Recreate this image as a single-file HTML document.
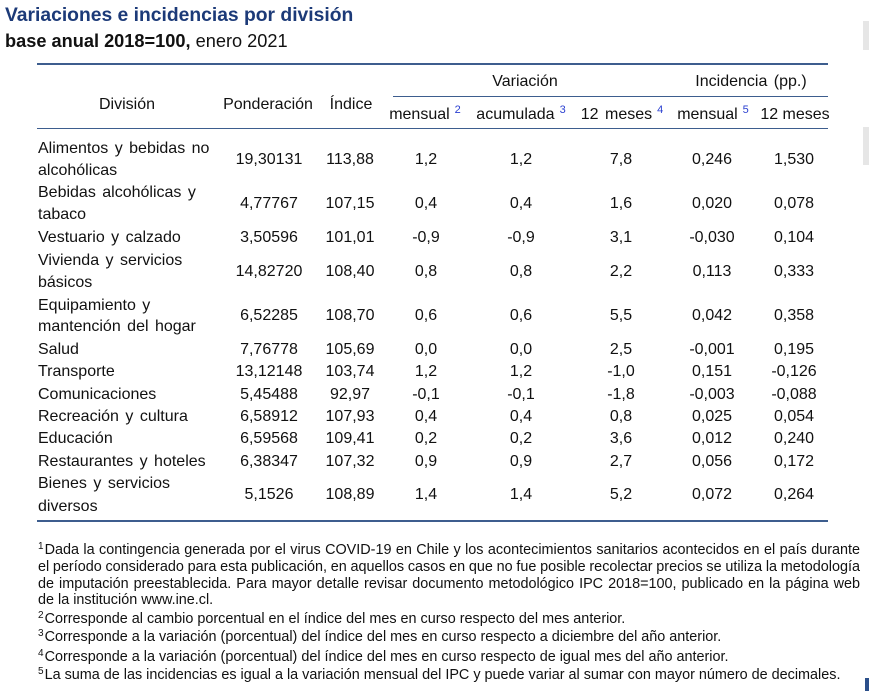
<!DOCTYPE html>
<html><head><meta charset="utf-8">
<style>
html,body{margin:0;padding:0;background:#fff;}
body{width:869px;height:691px;position:relative;overflow:hidden;font-family:"Liberation Sans",sans-serif;color:#111;}
.a{position:absolute;white-space:nowrap;}
.t{font-size:16px;line-height:20px;word-spacing:2px;}
.c{width:160px;text-align:center;}
.rule{position:absolute;background:#3d5d8e;}
sup.b{color:#2a3fd0;font-size:11px;vertical-align:0;position:relative;top:-6px;margin-left:5px;}
.fn{font-size:14.4px;line-height:16px;left:38px;}
.fn sup{font-size:10px;vertical-align:0;position:relative;top:-5px;margin-right:1px;}
.j span{display:inline-block;}
</style></head><body>

<div class="a" style="left:5px;top:3px;font-size:19.3px;font-weight:bold;color:#1c3a78;line-height:26px;">Variaciones e incidencias por división</div>
<div class="a" style="left:5px;top:29px;font-size:18.2px;line-height:24px;color:#111;"><b>base anual 2018=100,</b> enero 2021</div>

<div class="rule" style="left:37px;top:63px;width:791px;height:2px;"></div>
<div class="rule" style="left:393px;top:96px;width:435px;height:1px;"></div>
<div class="rule" style="left:37px;top:128px;width:791px;height:1px;"></div>
<div class="rule" style="left:37px;top:520px;width:791px;height:2px;"></div>

<!-- header -->
<div class="a t c" style="left:47px;top:95px;">División</div>
<div class="a t c" style="left:188px;top:95px;">Ponderación</div>
<div class="a t c" style="left:271px;top:95px;">Índice</div>
<div class="a t c" style="left:445px;top:72px;">Variación</div>
<div class="a t c" style="left:671px;top:72px;">Incidencia (pp.)</div>
<div class="a t c" style="left:345px;top:105px;">mensual<sup class="b">2</sup></div>
<div class="a t c" style="left:441px;top:105px;">acumulada<sup class="b">3</sup></div>
<div class="a t c" style="left:542px;top:105px;">12 meses<sup class="b">4</sup></div>
<div class="a t c" style="left:633px;top:105px;">mensual<sup class="b">5</sup></div>
<div class="a t c" style="left:715px;top:105px;word-spacing:0;">12 meses</div>

<!-- rows -->
<div class="a t" style="left:38px;top:139px;">Alimentos y bebidas no</div>
<div class="a t" style="left:38px;top:161px;">alcohólicas</div>
<div class="a t" style="left:38px;top:183px;">Bebidas alcohólicas y</div>
<div class="a t" style="left:38px;top:205px;">tabaco</div>
<div class="a t" style="left:38px;top:228px;">Vestuario y calzado</div>
<div class="a t" style="left:38px;top:251px;">Vivienda y servicios</div>
<div class="a t" style="left:38px;top:273px;">básicos</div>
<div class="a t" style="left:38px;top:296px;">Equipamiento y</div>
<div class="a t" style="left:38px;top:317px;">mantención del hogar</div>
<div class="a t" style="left:38px;top:340px;">Salud</div>
<div class="a t" style="left:38px;top:362px;">Transporte</div>
<div class="a t" style="left:38px;top:385px;">Comunicaciones</div>
<div class="a t" style="left:38px;top:407px;">Recreación y cultura</div>
<div class="a t" style="left:38px;top:429px;">Educación</div>
<div class="a t" style="left:38px;top:452px;">Restaurantes y hoteles</div>
<div class="a t" style="left:38px;top:474px;">Bienes y servicios</div>
<div class="a t" style="left:38px;top:497px;">diversos</div>

<div id="nums"></div>

<!-- footnotes -->
<div class="a fn j" style="top:542px;"><span><sup>1</sup>Dada la contingencia generada por el virus COVID-19 en Chile y los acontecimientos sanitarios acontecidos en el país durante</span></div>
<div class="a fn j" style="top:559px;"><span>el período considerado para esta publicación, en aquellos casos en que no fue posible recolectar precios se utiliza la metodología</span></div>
<div class="a fn j" style="top:576px;"><span>de imputación preestablecida. Para mayor detalle revisar documento metodológico IPC 2018=100, publicado en la página web</span></div>
<div class="a fn" style="top:592px;">de la institución www.ine.cl.</div>
<div class="a fn" style="top:611px;"><sup>2</sup>Corresponde al cambio porcentual en el índice del mes en curso respecto del mes anterior.</div>
<div class="a fn" style="top:629px;"><sup>3</sup>Corresponde a la variación (porcentual) del índice del mes en curso respecto a diciembre del año anterior.</div>
<div class="a fn" style="top:649px;"><sup>4</sup>Corresponde a la variación (porcentual) del índice del mes en curso respecto de igual mes del año anterior.</div>
<div class="a fn" style="top:667px;"><sup>5</sup>La suma de las incidencias es igual a la variación mensual del IPC y puede variar al sumar con mayor número de decimales.</div>

<!-- edge artifacts -->
<div class="a" style="left:863px;top:21px;width:6px;height:29px;background:#e6e6e6;"></div>
<div class="a" style="left:863px;top:127px;width:6px;height:38px;background:#e6e6e6;"></div>
<div class="a" style="left:865px;top:678px;width:4px;height:13px;background:#2b4f8a;"></div>

<script>
var rows=[
[150,"19,30131","113,88","1,2","1,2","7,8","0,246","1,530"],
[194,"4,77767","107,15","0,4","0,4","1,6","0,020","0,078"],
[228,"3,50596","101,01","-0,9","-0,9","3,1","-0,030","0,104"],
[262,"14,82720","108,40","0,8","0,8","2,2","0,113","0,333"],
[306,"6,52285","108,70","0,6","0,6","5,5","0,042","0,358"],
[340,"7,76778","105,69","0,0","0,0","2,5","-0,001","0,195"],
[362,"13,12148","103,74","1,2","1,2","-1,0","0,151","-0,126"],
[385,"5,45488","92,97","-0,1","-0,1","-1,8","-0,003","-0,088"],
[407,"6,58912","107,93","0,4","0,4","0,8","0,025","0,054"],
[429,"6,59568","109,41","0,2","0,2","3,6","0,012","0,240"],
[452,"6,38347","107,32","0,9","0,9","2,7","0,056","0,172"],
[485,"5,1526","108,89","1,4","1,4","5,2","0,072","0,264"]];
var cx=[269,350,426,521,621,712,794];
var h="";
rows.forEach(function(r){for(var i=0;i<7;i++){h+='<div class="a t c" style="left:'+(cx[i]-80)+'px;top:'+r[0]+'px;">'+r[i+1]+'</div>';}});
document.getElementById("nums").innerHTML=h;
var js=document.querySelectorAll(".j span");
for(var k=0;k<js.length;k++){
  var s=js[k];
  var w=s.getBoundingClientRect().width;
  var n=(s.textContent.match(/ /g)||[]).length;
  if(n>0){s.style.wordSpacing=((822-w)/n)+"px";}
}
</script>
</body></html>
